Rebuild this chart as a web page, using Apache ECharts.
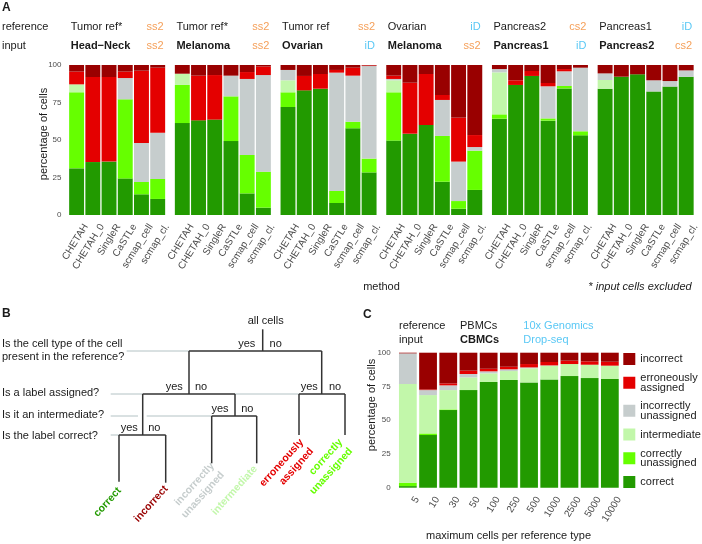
<!DOCTYPE html>
<html><head><meta charset="utf-8">
<script src="https://cdn.jsdelivr.net/npm/echarts@6/dist/echarts.min.js"></script>
<style>html,body{margin:0;padding:0;background:#fff}#c{width:702px;height:544px}</style>
</head><body><div id="c"></div>
<script>
// ---------------- data ----------------
const methods = ['CHETAH','CHETAH_0','SingleR','CaSTLe','scmap_cell','scmap_cl.'];
const outcomes = ['correct','correctly unassigned','intermediate','incorrectly unassigned','erroneously assigned','incorrect'];
const outcomeColors = ['#229a00','#66ff00','#c2f7aa','#c6cdcd','#e40000','#990000'];
const refNames = ['Tumor ref*','Tumor ref*','Tumor ref','Ovarian','Pancreas2','Pancreas1'];
const refTech = ['ss2','ss2','ss2','iD','cs2','iD'];
const inputNames = ['Head\u2212Neck','Melanoma','Ovarian','Melanoma','Pancreas1','Pancreas2'];
const inputTech = ['ss2','ss2','iD','ss2','iD','cs2'];

// rows: outcomes (bottom -> top), columns: methods; % of cells
const facetHeadNeck = [
  [31.1,35.3,35.6,24.4,13.8,10.7],
  [50.7,0,0,52.7,8.2,13.3],
  [5.3,0,0,0,0,0],
  [0,0,0,14.2,26.0,30.9],
  [8.5,56.7,56.4,4.3,48.2,43.3],
  [4.4,8.0,8.0,4.4,3.8,1.8]
];
const facetMelanomaTumor = [
  [61.3,63.1,63.6,49.3,14.4,4.9],
  [25.4,0,0,29.8,25.6,24.0],
  [7.5,0,0,0,0,0],
  [0,0,0,13.8,50.7,64.4],
  [0,29.8,29.7,0,4.6,5.7],
  [5.8,7.1,6.7,7.1,4.7,1.0]
];
const facetOvarian = [
  [72.0,83.1,84.2,8.0,57.8,28.4],
  [9.8,0,0,8.0,4.4,9.2],
  [8.0,0,0,0,0,0],
  [6.9,0,0,78.9,30.7,61.7],
  [0,9.6,9.8,1.8,5.3,0.4],
  [3.3,7.3,6.0,3.3,1.8,0.3]
];
const facetMelanomaOvarian = [
  [49.6,54.2,60.0,22.2,4.2,16.7],
  [32.2,0,0,30.5,5.1,26.2],
  [8.0,0,0,0,0,0],
  [0.9,0,0,24.0,26.3,2.4],
  [2.2,34.0,34.0,3.3,29.3,8.0],
  [7.1,11.8,6.0,20.0,35.1,46.7]
];
const facetPancreas1 = [
  [64.2,86.7,92.7,62.9,84.4,53.1],
  [2.9,0,0,1.5,1.6,2.7],
  [28.0,0,0,0,0,0],
  [2.2,0,0,21.4,9.8,42.4],
  [0,3.1,3.3,2.2,1.5,0],
  [2.7,10.2,4.0,12.0,2.7,1.8]
];
const facetPancreas2 = [
  [84.2,92.2,93.8,82.4,85.6,92.2],
  [0,0,0,0,0,0],
  [5.8,0,0,0,0,0],
  [4.4,0,0,7.4,3.7,4.2],
  [0,0,0,0,0,0],
  [5.6,7.8,6.2,10.2,10.7,3.6]
];

const maxCells = ['5','10','30','50','100','250','500','1000','2500','5000','10000'];
const cCorrect = [1.2,39.0,57.5,72.3,78.3,79.8,78.0,80.2,82.7,81.2,80.5];
const cCorrectlyUnassigned = [2.5,1.2,0.5,0,0,0,0,0,0,0,0];
const cIntermediate = [73.1,28.4,14.3,9.4,6.4,6.6,10.4,10.1,8.9,9.9,9.9];
const cIncorrectlyUnassigned = [22.7,3.7,3.5,2.5,1.5,1.3,0.7,0.3,0,0,0];
const cErroneouslyAssigned = [0,0.5,1.5,2.5,1.9,1.9,2.5,2.5,2.5,2.5,2.9];
const cIncorrect = [0.5,27.2,22.7,13.3,11.9,10.4,8.4,6.9,5.9,6.4,6.7];
const yTicks = [0,25,50,75,100];

// ---------------- layout ----------------
const FONT = '"Liberation Sans", Arial, Helvetica, sans-serif';
const ORANGE = '#f5a05a', BLUE = '#5ac8f5', INK = '#1a1a1a', TICK = '#4d4d4d';
const techColor = t => (t === 'iD' ? BLUE : ORANGE);
const facets = [facetHeadNeck, facetMelanomaTumor, facetOvarian, facetMelanomaOvarian, facetPancreas1, facetPancreas2];
const cData = [cCorrect, cCorrectlyUnassigned, cIntermediate, cIncorrectlyUnassigned, cErroneouslyAssigned, cIncorrect];

const FX0 = 68.5, FPITCH = 105.7, FW = 97.3, AT = 65, AH = 150;
const CX = 397.75, CT = 352.7, CW = 222.2, CH = 135;

const grid = [], xAxis = [], yAxis = [], series = [];
function addPanel(idx, left, top, width, height, cats, rows, showY, gap) {
  grid.push({left, top, width, height, containLabel: false});
  xAxis.push({
    type: 'category', gridIndex: idx, data: cats,
    axisLine: {show: false}, axisTick: {show: false},
    axisLabel: {interval: 0, rotate: 58, align: 'right', verticalAlign: 'top',
      margin: 4, padding: [6, 0, 0, 0], fontSize: 10, color: TICK, fontFamily: FONT}
  });
  yAxis.push({
    type: 'value', gridIndex: idx, min: 0, max: 100, interval: 25,
    splitLine: {show: false}, axisLine: {show: false}, axisTick: {show: false},
    axisLabel: {show: showY, margin: 7, fontSize: 8, color: TICK, fontFamily: FONT}
  });
  outcomes.forEach((o, k) => {
    series.push({
      type: 'bar', name: o, xAxisIndex: idx, yAxisIndex: idx, stack: 'p' + idx,
      data: rows[k], barCategoryGap: gap,
      itemStyle: {color: outcomeColors[k]},
      emphasis: {disabled: true}, animation: false
    });
  });
}
facets.forEach((f, i) => addPanel(i, FX0 + i * FPITCH, AT, FW, AH, methods, f, i === 0, '8%'));
addPanel(6, CX, CT, CW, CH, maxCells, cData, true, '12%');

// ---------------- text / diagram ----------------
const G = [];
function txt(x, y, s, o) {
  o = o || {};
  G.push({type: 'text', x, y, rotation: (o.rot || 0) * Math.PI / 180, silent: true, z: 10,
    style: {text: s, fill: o.color || INK, fontSize: o.size || 11, fontWeight: o.weight || 'normal',
      fontStyle: o.style || 'normal', fontFamily: FONT, align: o.align || 'left',
      verticalAlign: o.va || 'middle', lineHeight: o.lh || undefined}});
}
function ln(x1, y1, x2, y2, color, w) {
  G.push({type: 'line', silent: true, z: color === 'black' ? 6 : 5,
    shape: {x1, y1, x2, y2},
    style: {stroke: color === 'black' ? '#333333' : '#b3c2c4', lineWidth: w || (color === 'black' ? 1.5 : 1)}});
}

// Panel A
txt(2, 7.5, 'A', {weight: 'bold', size: 12});
txt(2, 26.7, 'reference');
txt(2, 45.7, 'input');
facets.forEach((f, i) => {
  const l = FX0 + i * FPITCH;
  txt(l + 2.2, 26.7, refNames[i]);
  txt(l + FW - 2.2, 26.7, refTech[i], {align: 'right', color: techColor(refTech[i])});
  txt(l + 2.2, 45.7, inputNames[i], {weight: 'bold'});
  txt(l + FW - 2.2, 45.7, inputTech[i], {align: 'right', color: techColor(inputTech[i])});
});
txt(43.5, 134, 'percentage of cells', {rot: 90, align: 'center'});
txt(381.5, 287.3, 'method', {align: 'center'});
txt(691.7, 287.3, '* input cells excluded', {align: 'right', style: 'italic'});

// Panel B
txt(2, 314, 'B', {weight: 'bold', size: 12});
txt(265.7, 320.7, 'all cells', {align: 'center'});
txt(2, 343.7, 'Is the cell type of the cell');
txt(2, 357, 'present in the reference?');
txt(2, 393.3, 'Is a label assigned?');
txt(2, 415.3, 'Is it an intermediate?');
txt(2, 436, 'Is the label correct?');
// gray guides
ln(126.7, 351, 189, 351, 'gray');
ln(110.7, 394, 142.7, 394, 'gray');
ln(235, 394, 299, 394, 'gray');
ln(110.7, 416, 138, 416, 'gray');
ln(146.7, 416, 211.7, 416, 'gray');
ln(110.7, 435, 119, 435, 'gray');
// tree
ln(262.7, 329.3, 262.7, 351, 'black');
ln(189, 351, 321.7, 351, 'black');
ln(189, 351, 189, 394, 'black');
ln(321.7, 351, 321.7, 394, 'black');
ln(142.7, 394, 235, 394, 'black');
ln(299, 394, 345, 394, 'black');
ln(142.7, 394, 142.7, 435, 'black');
ln(235, 394, 235, 416, 'black');
ln(211.7, 416, 256.7, 416, 'black');
ln(119, 435, 165.7, 435, 'black');
ln(119, 435, 119, 481.7, 'black');
ln(165.7, 435, 165.7, 482.7, 'black');
ln(211.7, 416, 211.7, 463.3, 'black');
ln(256.7, 416, 256.7, 463.3, 'black');
ln(299, 394, 299, 435, 'black');
ln(345, 394, 345, 435, 'black');
// yes / no
[[246.7,344.3,'yes'],[275.7,344.3,'no'],[174.3,386.7,'yes'],[201,386.7,'no'],
 [309.3,386.7,'yes'],[335,386.7,'no'],[220,409,'yes'],[247.3,409,'no'],
 [129.3,427.7,'yes'],[154.3,427.7,'no']].forEach(d => txt(d[0], d[1], d[2], {align: 'center'}));
// leaf labels
const leafOpt = (c) => ({rot: 48, align: 'right', va: 'top', weight: 'bold', size: 10.5, lh: 13.5, color: c});
txt(114.4, 484.4, 'correct', leafOpt(outcomeColors[0]));
txt(161.1, 482.7, 'incorrect', leafOpt(outcomeColors[5]));
txt(207.4, 459.7, 'incorrectly\nunassigned', leafOpt(outcomeColors[3]));
txt(250.4, 462.7, 'intermediate', leafOpt(outcomeColors[2]));
txt(296.7, 436, 'erroneously\nassigned', leafOpt(outcomeColors[4]));
txt(335.7, 436, 'correctly\nunassigned', leafOpt(outcomeColors[1]));

// Panel C
txt(363, 315, 'C', {weight: 'bold', size: 12});
txt(399, 326, 'reference');
txt(399, 340, 'input');
txt(460, 326, 'PBMCs');
txt(460, 340, 'CBMCs', {weight: 'bold'});
txt(523.3, 326, '10x Genomics', {color: BLUE});
txt(523.3, 340, 'Drop-seq', {color: BLUE});
txt(371.7, 405, 'percentage of cells', {rot: 90, align: 'center'});
txt(508.5, 536, 'maximum cells per reference type', {align: 'center'});

const legendNames = {'erroneously assigned': 'erroneously\nassigned', 'incorrectly unassigned': 'incorrectly\nunassigned', 'correctly unassigned': 'correctly\nunassigned'};

const chart = echarts.init(document.getElementById('c'), null, {renderer: 'canvas'});
chart.setOption({
  backgroundColor: '#ffffff',
  animation: false,
  textStyle: {fontFamily: FONT},
  grid, xAxis, yAxis, series,
  legend: {
    orient: 'vertical', left: 623.3, top: 353, padding: 0,
    itemWidth: 12, itemHeight: 12, itemGap: 7.5, selectedMode: false,
    icon: 'rect',
    data: outcomes.slice().reverse(),
    formatter: n => legendNames[n] || n,
    textStyle: {fontSize: 11, lineHeight: 9.5, color: INK, fontFamily: FONT}
  },
  graphic: G
});
</script></body></html>
